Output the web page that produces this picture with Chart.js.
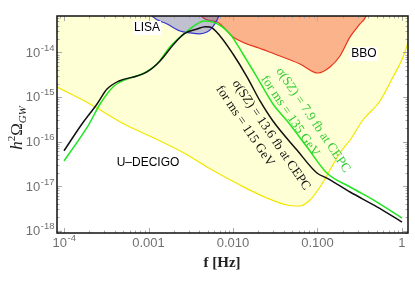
<!DOCTYPE html>
<html>
<head>
<meta charset="utf-8">
<script src="https://cdn.jsdelivr.net/npm/chart.js@4.4.0/dist/chart.umd.min.js"></script>
<style>body{margin:0;background:#fff}</style>
</head>
<body>
<canvas id="gw" width="415" height="284"></canvas>
<script>
// axis ticks ("base^exp" is drawn with a raised exponent)
var xTicks = [1e-4, 1e-3, 1e-2, 1e-1, 1];
var xTickLabels = ['10^-4', '0.001', '0.010', '0.100', '1'];
var yTicks = [1e-18, 1e-17, 1e-16, 1e-15, 1e-14];
var yTickLabels = ['10^-18', '10^-17', '10^-16', '10^-15', '10^-14'];

// signal: sigma(SZ) = 13.6 fb, ms = 115 GeV (black)
var blackF = [1e-4, 1.63e-4, 2.46e-4, 3.23e-4, 4.48e-4, 7.31e-4, 9.6e-4, 1.37e-3, 2.0e-3, 2.63e-3, 3.75e-3, 4.67e-3, 5.35e-3, 7.02e-3, 0.01, 0.0147, 0.0209, 0.0297, 0.0571, 0.0986, 0.129, 0.243, 0.506, 1];
var blackO = [6.2e-17, 2.47e-16, 6.97e-16, 1.51e-15, 2.29e-15, 2.96e-15, 3.65e-15, 6.44e-15, 1.55e-14, 2.61e-14, 3.37e-14, 3.8e-14, 3.74e-14, 2.35e-14, 9.25e-15, 2.81e-15, 8.13e-16, 2.88e-16, 6.44e-17, 1.96e-17, 1.51e-17, 7.33e-18, 3.4e-18, 1.55e-18];

// signal: sigma(SZ) = 7.9 fb, ms = 135 GeV (green)
var greenF = [1e-4, 1.98e-4, 2.67e-4, 3.91e-4, 5.57e-4, 8.38e-4, 1.26e-3, 1.79e-3, 2.63e-3, 3.45e-3, 4.54e-3, 5.79e-3, 9.2e-3, 0.0131, 0.0192, 0.0297, 0.0448, 0.0752, 0.129, 0.243, 0.506, 1];
var greenO = [3.65e-17, 2.47e-16, 6.97e-16, 1.77e-15, 2.54e-15, 3.29e-15, 5.52e-15, 1.33e-14, 2.61e-14, 3.94e-14, 5.1e-14, 4.84e-14, 2.61e-14, 9.25e-15, 2.81e-15, 6.97e-16, 2.75e-16, 7.52e-17, 1.96e-17, 9.5e-18, 4.37e-18, 1.9e-18];

// detector sensitivity curves
var lisaF = [9.1e-4, 1.13e-3, 1.66e-3, 2.36e-3, 3.1e-3, 4.06e-3, 4.92e-3, 5.64e-3, 6.64e-3, 7.62e-3];
var lisaO = [1.17e-13, 6.3e-14, 4.37e-14, 3.04e-14, 2.76e-14, 2.63e-14, 2.88e-14, 3.55e-14, 5.96e-14, 1.17e-13];

var bboF = [3.86e-3, 4.3e-3, 6.47e-3, 0.01, 0.0252, 0.0621, 0.1014, 0.1406, 0.1845, 0.243, 0.318, 0.375, 0.407];
var bboO = [1.17e-13, 6.3e-14, 4.84e-14, 2.24e-14, 1.08e-14, 5.52e-15, 3.46e-15, 4.72e-15, 8.34e-15, 2.24e-14, 4.37e-14, 6.6e-14, 1.17e-13];

var decigoF = [8.26e-5, 2.03e-4, 5.13e-4, 1.16e-3, 2.63e-3, 4.92e-3, 0.0121, 0.0252, 0.0436, 0.0621, 0.0815, 0.107, 0.1406, 0.1845, 0.243, 0.345, 0.55, 0.782, 1.03, 1.31];
var decigoO = [1.68e-15, 6.97e-16, 2.47e-16, 1.2e-16, 5.52e-17, 2.67e-17, 1.05e-17, 5.37e-18, 3.74e-18, 3.56e-18, 4.84e-18, 9.5e-18, 2.29e-17, 5.52e-17, 1.08e-16, 3.04e-16, 8.13e-16, 2.81e-15, 7.9e-15, 3.2e-14];

function pts(fs, os) {
  return fs.map(function(f, i) { return {x: f, y: os[i]}; });
}

var SANS = '"Liberation Sans", Arial, sans-serif';
var SERIF = '"Liberation Serif", "Times New Roman", serif';

// draws "10^-4" style label; align: 'center' or 'right'
function tickText(ctx, label, px, base, align) {
  var p = label.split('^');
  ctx.font = '13px ' + SANS;
  var w1 = ctx.measureText(p[0]).width;
  var w2 = 0;
  if (p[1]) { ctx.font = '9.5px ' + SANS; w2 = ctx.measureText(p[1]).width; }
  var x0 = align == 'right' ? px - w1 - w2 : px - (w1 + w2) / 2;
  ctx.textAlign = 'left';
  ctx.font = '13px ' + SANS;
  ctx.fillText(p[0], x0, base);
  if (p[1]) { ctx.font = '9.5px ' + SANS; ctx.fillText(p[1], x0 + w1 + 0.5, base - 6); }
}

// frame, inward ticks and text labels
var decor = {
  id: 'decor',
  afterDatasetsDraw: function(chart) {
    var ctx = chart.ctx, a = chart.chartArea, x = chart.scales.x, y = chart.scales.y;
    ctx.save();
    ctx.strokeStyle = '#aaa';
    ctx.lineWidth = 1;
    function seg(x1, y1, x2, y2) { ctx.beginPath(); ctx.moveTo(x1, y1); ctx.lineTo(x2, y2); ctx.stroke(); }
    for (var d = -5; d <= 0; d++) {
      for (var m = 1; m <= 9; m++) {
        var v = m * Math.pow(10, d);
        var len = m == 1 ? 5 : 2.5;
        if (v >= x.min && v <= x.max) {
          var px = Math.round(x.getPixelForValue(v)) + 0.5;
          seg(px, a.bottom, px, a.bottom - len);
          seg(px, a.top, px, a.top + len);
        }
      }
    }
    for (var d2 = -19; d2 <= -13; d2++) {
      for (var m2 = 1; m2 <= 9; m2++) {
        var w = m2 * Math.pow(10, d2);
        var l2 = m2 == 1 ? 5 : 2.5;
        if (w >= y.min && w <= y.max) {
          var py = Math.round(y.getPixelForValue(w)) + 0.5;
          seg(a.left, py, a.left + l2, py);
          seg(a.right, py, a.right - l2, py);
        }
      }
    }
    ctx.strokeStyle = '#111';
    ctx.lineWidth = 1.5;
    ctx.strokeRect(a.left, a.top, a.right - a.left, a.bottom - a.top);

    // detector names
    ctx.font = '12px ' + SANS;
    ctx.textAlign = 'center';
    ctx.textBaseline = 'middle';
    function boxed(t, fx, fy) {
      var cx = x.getPixelForValue(fx), cy = y.getPixelForValue(fy);
      var tw = ctx.measureText(t).width;
      ctx.fillStyle = '#fff';
      ctx.fillRect(cx - tw / 2 - 1, cy - 7, tw + 2, 14);
      ctx.fillStyle = '#000';
      ctx.fillText(t, cx, cy);
    }
    boxed('LISA', 9.6e-4, 3.55e-14);
    boxed('BBO', 0.355, 9.25e-15);
    ctx.fillStyle = '#000';
    ctx.fillText('U\u2013DECIGO', x.getPixelForValue(9.86e-4), y.getPixelForValue(3.29e-17));

    // rotated curve labels
    ctx.font = '13px ' + SERIF;
    function rot(t, fx, fy, col) {
      ctx.save();
      ctx.translate(x.getPixelForValue(fx), y.getPixelForValue(fy));
      ctx.rotate(56 * Math.PI / 180);
      ctx.fillStyle = col;
      ctx.fillText(t, 0, 0);
      ctx.restore();
    }
    rot('\u03C3(SZ) = 13.6 fb at CEPC', 0.0282, 1.4e-16, '#111');
    rot('for ms = 115 GeV', 0.01387, 2.23e-16, '#111');
    rot('\u03C3(SZ) = 7.9 fb at CEPC', 0.0885, 3.04e-16, '#3c3');
    rot('for ms = 135 GeV', 0.0473, 3.74e-16, '#3c3');
    ctx.restore();
  },
  afterDraw: function(chart) {
    var ctx = chart.ctx, a = chart.chartArea, x = chart.scales.x, y = chart.scales.y;
    ctx.save();
    ctx.textBaseline = 'alphabetic';
    // tick labels
    ctx.fillStyle = '#707070';
    xTicks.forEach(function(v, i) { tickText(ctx, xTickLabels[i], x.getPixelForValue(v), a.bottom + 14, 'center'); });
    yTicks.forEach(function(v, i) { tickText(ctx, yTickLabels[i], a.left - 3, y.getPixelForValue(v) + 4.5, 'right'); });
    // x title
    ctx.fillStyle = '#222';
    ctx.font = 'bold 15px ' + SERIF;
    ctx.textAlign = 'center';
    ctx.fillText('f [Hz]', 222, 267);
    // y title h^2 Omega_GW
    ctx.translate(22, 128);
    ctx.rotate(-Math.PI / 2);
    var f1 = 'italic 17px ' + SERIF;
    var f2 = 'italic 11px ' + SERIF;
    var f3 = '17px ' + SERIF;
    var parts = [['h', f1, 0], ['2', '11px ' + SERIF, -7], ['\u03A9', f3, 0], ['GW', f2, 3.5]];
    var tot = 0;
    parts.forEach(function(p) { ctx.font = p[1]; tot += ctx.measureText(p[0]).width; });
    var cx = -tot / 2;
    ctx.textAlign = 'left';
    parts.forEach(function(p) { ctx.font = p[1]; ctx.fillText(p[0], cx, p[2]); cx += ctx.measureText(p[0]).width; });
    ctx.restore();
  }
};

new Chart('gw', {
  type: 'scatter',
  data: {
    datasets: [
      {data: pts(decigoF, decigoO), showLine: true, borderColor: '#f2e600', borderWidth: 1.2, backgroundColor: '#ffffd6', fill: 'end', pointRadius: 0, cubicInterpolationMode: 'monotone', order: 5, clip: 0},
      {data: pts(bboF, bboO), showLine: true, borderColor: '#e8341c', borderWidth: 1.2, backgroundColor: 'rgba(250,150,110,0.72)', fill: 'end', pointRadius: 0, cubicInterpolationMode: 'monotone', order: 4, clip: 0},
      {data: pts(lisaF, lisaO), showLine: true, borderColor: '#3535d0', borderWidth: 1.2, backgroundColor: 'rgba(90,90,200,0.38)', fill: 'end', pointRadius: 0, cubicInterpolationMode: 'monotone', order: 3, clip: 0},
      {data: pts(greenF, greenO), showLine: true, borderColor: '#22e622', borderWidth: 1.5, fill: false, pointRadius: 0, cubicInterpolationMode: 'monotone', order: 2, clip: 0},
      {data: pts(blackF, blackO), showLine: true, borderColor: '#111', borderWidth: 1.5, fill: false, pointRadius: 0, cubicInterpolationMode: 'monotone', order: 1, clip: 0}
    ]
  },
  options: {
    responsive: false,
    animation: false,
    layout: {padding: {left: 0, right: 7, top: 16, bottom: 0}},
    plugins: {legend: {display: false}, tooltip: {enabled: false}},
    scales: {
      x: {
        type: 'logarithmic', min: 8.26e-5, max: 1.178,
        grid: {display: false}, border: {display: false},
        afterBuildTicks: function(s) { s.ticks = xTicks.map(function(v) { return {value: v}; }); },
        afterFit: function(s) { s.height = 51; },
        ticks: {display: false}
      },
      y: {
        type: 'logarithmic', min: 8.8e-19, max: 6.6e-14,
        grid: {display: false}, border: {display: false},
        afterBuildTicks: function(s) { s.ticks = yTicks.map(function(v) { return {value: v}; }); },
        afterFit: function(s) { s.width = 57; },
        ticks: {display: false}
      }
    }
  },
  plugins: [decor]
});
</script>
</body>
</html>
